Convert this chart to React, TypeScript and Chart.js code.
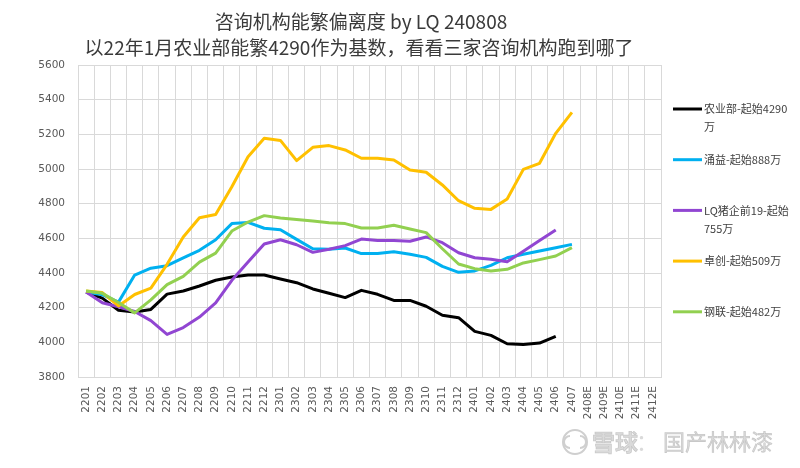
import { useEffect, useRef } from "react";
import { Chart, registerables } from "chart.js";

Chart.register(...registerables);

const TITLE_LINES = [
  "咨询机构能繁偏离度 by LQ 240808",
  "以22年1月农业部能繁4290作为基数，看看三家咨询机构跑到哪了",
];

const CATEGORIES = [
  "2201", "2202", "2203", "2204", "2205", "2206", "2207", "2208", "2209", "2210", "2211", "2212",
  "2301", "2302", "2303", "2304", "2305", "2306", "2307", "2308", "2309", "2310", "2311", "2312",
  "2401", "2402", "2403", "2404", "2405", "2406", "2407",
  "2408E", "2409E", "2410E", "2411E", "2412E",
];

const Y_MIN = 3800;
const Y_MAX = 5600;
const Y_STEP = 200;

const SERIES_NAMES = [
  "农业部-起始4290万",
  "涌益-起始888万",
  "LQ猪企前19-起始755万",
  "卓创-起始509万",
  "钢联-起始482万",
];

const SERIES_COLORS = ["#000000", "#00b0f0", "#9146d2", "#ffc000", "#92d050"];

const MOA = [
  4290, 4255, 4185, 4175, 4190, 4278, 4296, 4325, 4358, 4377, 4388, 4388,
  4365, 4344, 4308, 4283, 4258, 4300, 4277, 4242, 4242, 4208, 4156, 4142,
  4063, 4040, 3992, 3987, 3996, 4035,
];

const YONGYI = [
  4290, 4275, 4232, 4388, 4428, 4442, 4487, 4531, 4592, 4685, 4692, 4658,
  4650, 4594, 4540, 4537, 4544, 4512, 4512, 4523, 4508, 4490, 4438, 4404,
  4412, 4444, 4488, 4508, 4527, 4546, 4565,
];

const LQ19 = [
  4290, 4228, 4205, 4178, 4125, 4046, 4085, 4146, 4227, 4358, 4463, 4567,
  4592, 4563, 4519, 4537, 4558, 4596, 4588, 4587, 4583, 4608, 4575, 4517,
  4488, 4479, 4465, 4525, 4587, 4648,
];

const ZHUOCHUANG = [
  4296, 4287, 4210, 4276, 4313, 4450, 4608, 4719, 4737, 4898, 5071, 5177,
  5165, 5048, 5125, 5135, 5110, 5062, 5062, 5052, 4994, 4981, 4908, 4817,
  4773, 4767, 4827, 4998, 5033, 5206, 5327,
];

const GANGLIAN = [
  4296, 4283, 4230, 4170, 4245, 4333, 4381, 4463, 4515, 4642, 4694, 4731,
  4717, 4708, 4700, 4690, 4685, 4660, 4660, 4675, 4654, 4633, 4540, 4452,
  4425, 4412, 4421, 4458, 4477, 4498, 4546,
];

const SERIES_VALUES = [MOA, YONGYI, LQ19, ZHUOCHUANG, GANGLIAN];

const WATERMARK_BRAND = "雪球";
const WATERMARK_SEP = "：";
const WATERMARK_USER = "国产林林漆";

const CJK = '"Noto Sans CJK SC", "Noto Sans", sans-serif';
const AXIS_FONT = '"DejaVu Sans", "Noto Sans", sans-serif';

function wrapTokens(ctx: CanvasRenderingContext2D, text: string, maxW: number): string[] {
  const tokens = text.match(/[A-Za-z0-9]+|./g) || [];
  const lines: string[] = [];
  let cur = "";
  for (const t of tokens) {
    const test = cur + t;
    if (cur && ctx.measureText(test).width > maxW) {
      lines.push(cur);
      cur = t;
    } else {
      cur = test;
    }
  }
  if (cur) lines.push(cur);
  return lines;
}

const decorPlugin = {
  id: "decor",
  afterDraw(chart: any) {
    const ctx: CanvasRenderingContext2D = chart.ctx;
    const area = chart.chartArea;
    ctx.save();

    // Title
    ctx.fillStyle = "#3a3a3a";
    ctx.font = `19px ${CJK}`;
    ctx.textAlign = "center";
    ctx.textBaseline = "middle";
    ctx.fillText(TITLE_LINES[0], 361, 22);
    ctx.fillText(TITLE_LINES[1], 359, 48);

    // Legend
    ctx.font = `11px ${CJK}`;
    ctx.textAlign = "left";
    const lx0 = area.right + 12;
    const lx1 = area.right + 41;
    const tx = area.right + 43;
    const startY = 109;
    const gap = 50.7;
    SERIES_NAMES.forEach((name, i) => {
      const y = startY + gap * i;
      ctx.strokeStyle = SERIES_COLORS[i];
      ctx.lineWidth = 3;
      ctx.lineCap = "butt";
      ctx.beginPath();
      ctx.moveTo(lx0, y);
      ctx.lineTo(lx1, y);
      ctx.stroke();
      ctx.fillStyle = "#404040";
      const lines = wrapTokens(ctx, name, 90);
      lines.forEach((ln, j) => ctx.fillText(ln, tx, y + j * 18));
    });

    // Watermark
    const wy = 442;
    ctx.strokeStyle = "#cfcfcf";
    ctx.lineWidth = 2;
    ctx.beginPath();
    ctx.arc(575, wy, 12, 0, Math.PI * 2);
    ctx.stroke();
    ctx.beginPath();
    ctx.arc(570, wy, 6, -Math.PI / 2, Math.PI / 2, true);
    ctx.stroke();
    ctx.beginPath();
    ctx.arc(580, wy, 6, Math.PI / 2, (3 * Math.PI) / 2, true);
    ctx.stroke();
    ctx.textBaseline = "middle";
    ctx.fillStyle = "#dadada";
    ctx.strokeStyle = "rgba(150,150,150,0.45)";
    ctx.lineWidth = 0.6;
    ctx.font = `bold 23px ${CJK}`;
    ctx.fillText(WATERMARK_BRAND, 592, wy);
    ctx.strokeText(WATERMARK_BRAND, 592, wy);
    ctx.font = `22px ${CJK}`;
    ctx.fillText(WATERMARK_SEP, 636, wy);
    ctx.fillText(WATERMARK_USER, 663, wy);
    ctx.strokeText(WATERMARK_USER, 663, wy);

    ctx.restore();
  },
};

export default function App() {
  const canvasRef = useRef<HTMLCanvasElement | null>(null);

  useEffect(() => {
    if (!canvasRef.current) return;
    const datasets = SERIES_NAMES.map((name, i) => ({
      label: name,
      data: SERIES_VALUES[i],
      borderColor: SERIES_COLORS[i],
      backgroundColor: SERIES_COLORS[i],
      borderWidth: 3,
      pointRadius: 0,
      pointHoverRadius: 0,
      tension: 0,
      fill: false,
      spanGaps: false,
      order: SERIES_NAMES.length - 1 - i,
      borderJoinStyle: "round" as const,
    }));

    const chart = new Chart(canvasRef.current, {
      type: "line",
      data: { labels: CATEGORIES, datasets },
      options: {
        responsive: false,
        animation: false,
        devicePixelRatio: 1,
        layout: { padding: { top: 65, right: 139, left: 0, bottom: 0 } },
        plugins: {
          legend: { display: false },
          title: { display: false },
          tooltip: { enabled: false },
        },
        scales: {
          x: {
            type: "category",
            offset: true,
            grid: { color: "#d9d9d9", lineWidth: 1, offset: true, drawTicks: false },
            border: { color: "#d9d9d9" },
            ticks: {
              autoSkip: false,
              maxRotation: 90,
              minRotation: 90,
              padding: 9,
              color: "#595959",
              font: { family: AXIS_FONT, size: 10.5 },
            },
            afterFit: (s: any) => {
              s.height = 91;
            },
          },
          y: {
            min: Y_MIN,
            max: Y_MAX,
            grid: { color: "#d9d9d9", lineWidth: 1, drawTicks: false },
            border: { color: "#d9d9d9" },
            ticks: {
              stepSize: Y_STEP,
              padding: 13,
              color: "#595959",
              font: { family: AXIS_FONT, size: 10.5 },
              callback: (v: any) => String(v),
            },
            afterFit: (s: any) => {
              s.width = 78;
            },
          },
        },
      },
      plugins: [decorPlugin],
    });
    return () => chart.destroy();
  }, []);

  return (
    <div
      style={{
        position: "fixed",
        left: 0,
        top: 0,
        width: 800,
        height: 468,
        background: "#ffffff",
      }}
    >
      <canvas ref={canvasRef} width={800} height={468} style={{ width: 800, height: 468 }} />
    </div>
  );
}
